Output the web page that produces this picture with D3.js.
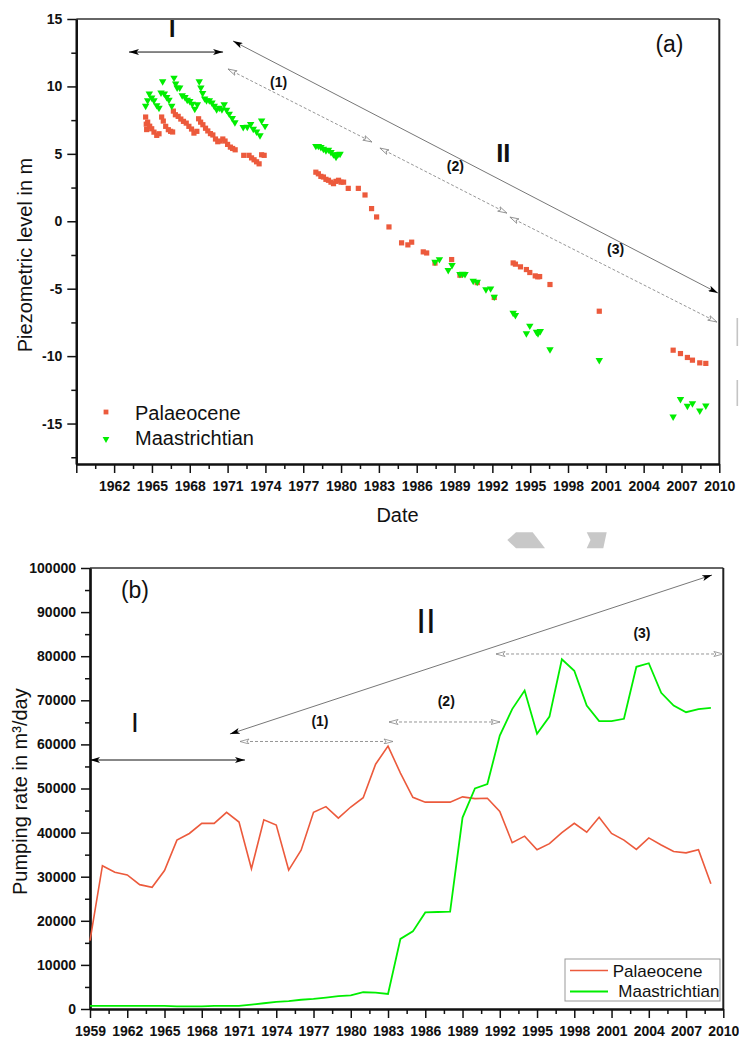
<!DOCTYPE html>
<html><head><meta charset="utf-8">
<script src="https://cdn.jsdelivr.net/npm/d3@7"></script>
<style>body{margin:0;background:#fff}svg{display:block}text{font-family:"Liberation Sans",Arial,sans-serif}</style>
</head><body><svg id="c" width="739" height="1042"></svg>
<script>
// ---------- DATA: panel (a) piezometric levels ----------
const palYears = [1964.50,1964.55,1964.58,1964.66,1964.82,1964.98,1965.16,1965.38,1965.56,1965.77,1965.90,1966.09,1966.30,1966.48,1966.64,1966.70,1966.86,1967.08,1967.29,1967.50,1967.72,1967.93,1968.14,1968.33,1968.56,1968.70,1968.86,1969.04,1969.25,1969.43,1969.64,1969.83,1970.04,1970.22,1970.41,1970.62,1970.80,1971.00,1971.22,1971.40,1971.60,1972.28,1972.70,1972.90,1973.10,1973.30,1973.50,1973.70,1973.90,1978.00,1978.20,1978.40,1978.60,1978.80,1979.00,1979.20,1979.40,1979.60,1979.80,1980.00,1980.20,1980.57,1981.37,1981.90,1982.42,1982.82,1983.80,1984.80,1985.30,1985.60,1986.52,1986.79,1987.45,1988.77,1989.43,1990.80,1992.15,1993.65,1993.83,1994.23,1994.70,1994.97,1995.40,1995.60,1995.75,1996.57,2000.48,2006.34,2006.92,2007.47,2007.87,2008.45,2008.93];
const palLevels = [7.73,7.20,6.80,7.35,7.05,6.86,6.61,6.37,6.49,7.73,7.43,7.04,6.79,6.67,6.62,8.17,7.90,7.78,7.58,7.41,7.28,7.04,6.84,6.54,6.67,7.60,7.35,7.16,6.90,6.70,6.50,6.40,6.10,5.90,5.95,6.10,5.95,5.70,5.50,5.40,5.30,4.89,4.89,4.70,4.56,4.41,4.26,4.93,4.89,3.64,3.52,3.33,3.28,3.11,3.04,2.90,2.79,2.96,3.04,2.90,2.90,2.44,2.44,1.95,0.94,0.32,-0.42,-1.60,-1.75,-1.55,-2.27,-2.35,-3.10,-2.84,-4.00,-4.55,-5.65,-3.09,-3.18,-3.38,-3.58,-3.80,-4.05,-4.12,-4.10,-4.69,-6.67,-9.56,-9.81,-10.10,-10.30,-10.50,-10.54];
const maaYears = [1964.50,1964.66,1964.79,1964.98,1965.16,1965.38,1965.56,1965.72,1965.85,1965.98,1966.17,1966.35,1966.57,1966.75,1966.88,1967.00,1967.20,1967.40,1967.62,1967.80,1968.00,1968.20,1968.40,1968.60,1968.75,1968.88,1969.02,1969.18,1969.33,1969.55,1969.76,1969.94,1970.13,1970.34,1970.55,1970.73,1970.92,1971.13,1971.37,1971.58,1972.24,1972.56,1972.83,1973.04,1973.30,1973.57,1973.70,1973.97,1978.00,1978.20,1978.40,1978.60,1978.80,1979.00,1979.20,1979.40,1979.60,1979.75,1979.92,1987.45,1987.80,1988.50,1988.80,1989.43,1989.65,1989.83,1990.48,1990.80,1991.49,1991.86,1992.15,1993.65,1993.83,1994.70,1994.97,1995.50,1995.62,1995.80,1996.57,2000.48,2006.34,2006.92,2007.47,2007.87,2008.45,2008.93];
const maaLevels = [8.55,8.96,9.46,9.16,8.96,8.60,8.40,9.54,10.37,9.46,9.20,9.00,8.55,10.64,10.20,9.90,9.90,9.33,9.20,9.00,8.90,8.70,8.33,8.66,10.37,9.90,9.50,9.10,8.96,8.96,8.80,8.55,8.30,8.40,8.30,8.66,8.26,7.97,7.65,7.33,6.98,7.00,7.20,6.85,6.65,6.37,7.46,7.06,5.58,5.58,5.50,5.37,5.26,5.30,5.12,4.96,4.77,4.96,5.00,-3.01,-2.82,-3.63,-3.26,-3.93,-3.90,-3.93,-4.42,-4.50,-5.06,-4.99,-5.60,-6.79,-6.96,-8.32,-7.75,-8.20,-8.32,-8.15,-9.51,-10.30,-14.49,-13.19,-13.70,-13.51,-14.05,-13.68];
const topXTicks = [1959,1962,1965,1968,1971,1974,1977,1980,1983,1986,1989,1992,1995,1998,2001,2004,2007,2010];
const topYTicks = [-15,-10,-5,0,5,10,15];

// ---------- DATA: panel (b) pumping rates ----------
const pumpYears = [1959,1960,1961,1962,1963,1964,1965,1966,1967,1968,1969,1970,1971,1972,1973,1974,1975,1976,1977,1978,1979,1980,1981,1982,1983,1984,1985,1986,1987,1988,1989,1990,1991,1992,1993,1994,1995,1996,1997,1998,1999,2000,2001,2002,2003,2004,2005,2006,2007,2008,2009];
const pumpPal = [15500,32500,31000,30400,28200,27600,31400,38300,39800,42100,42100,44600,42400,31800,42900,41700,31500,36000,44600,45900,43300,45800,47900,55500,59600,53500,48000,46900,46900,46900,48100,47700,47800,44800,37700,39200,36100,37500,40000,42100,40100,43500,39800,38300,36200,38800,37200,35700,35400,36100,28400];
const pumpMaa = [700,700,700,700,700,700,700,600,600,600,700,700,700,1000,1300,1600,1800,2100,2300,2600,2900,3100,3800,3700,3400,15900,17600,21900,22000,22100,43400,50000,51000,62000,68000,72200,62400,66300,79300,76700,68800,65300,65300,65800,77600,78400,71700,68800,67300,68000,68300];
const botXTicks = [1959,1962,1965,1968,1971,1974,1977,1980,1983,1986,1989,1992,1995,1998,2001,2004,2007,2010];
const botYTicks = [0,10000,20000,30000,40000,50000,60000,70000,80000,90000,100000];
const seriesNames = ["Palaeocene","Maastrichtian"];
const RED = "#EC5A3C", GREEN = "#00EE00";

// ---------- SETUP ----------
const svg = d3.select("#c");
svg.append("rect").attr("width",739).attr("height",1042).attr("fill","#fff");
const defs = svg.append("defs");
defs.append("marker").attr("id","hs").attr("viewBox","0 0 10 6").attr("refX",10).attr("refY",3)
  .attr("markerWidth",10).attr("markerHeight",6).attr("markerUnits","userSpaceOnUse").attr("orient","auto-start-reverse")
  .append("path").attr("d","M0,0 L10,3 L0,6 L2.5,3 Z").attr("fill","#000");
defs.append("marker").attr("id","ho").attr("viewBox","0 0 10 6").attr("refX",9.5).attr("refY",3)
  .attr("markerWidth",10).attr("markerHeight",6).attr("markerUnits","userSpaceOnUse").attr("orient","auto-start-reverse")
  .append("path").attr("d","M0.5,0.5 L9.5,3 L0.5,5.5 L2.5,3 Z").attr("fill","#fff").attr("stroke","#888").attr("stroke-width",0.8);

function mids(a){const r=[];for(let i=0;i<a.length-1;i++)r.push((a[i]+a[i+1])/2);return r;}

function drawAxes(x, y, xTicks, xFmt, yTicks, yFmt, yMinor, fs){
  const g = svg.append("g");
  const y0 = y.range()[0], y1 = y.range()[1], x0 = x.range()[0], x1 = x.range()[1];
  g.append("line").attr("x1",x0).attr("x2",x1).attr("y1",y1).attr("y2",y1).attr("stroke","#333").attr("stroke-width",1.6);
  g.append("line").attr("x1",x1).attr("x2",x1).attr("y1",y1).attr("y2",y0).attr("stroke","#222").attr("stroke-width",2);
  const gx = g.append("g").attr("transform",`translate(0,${y0})`);
  gx.append("g").call(d3.axisBottom(x).tickValues(mids(xTicks)).tickSize(5).tickSizeOuter(0).tickFormat(""));
  const gxm = gx.append("g").call(d3.axisBottom(x).tickValues(xTicks).tickSize(9).tickSizeOuter(0).tickFormat(xFmt));
  gxm.selectAll("text").attr("y",17.5).attr("dy","0.71em");
  const gy = g.append("g").attr("transform",`translate(${x0},0)`);
  gy.append("g").call(d3.axisLeft(y).tickValues(yMinor).tickSize(5).tickSizeOuter(0).tickFormat(""));
  gy.append("g").call(d3.axisLeft(y).tickValues(yTicks).tickSize(9).tickPadding(5).tickSizeOuter(0).tickFormat(yFmt));
  g.selectAll(".domain").attr("stroke","#111").attr("stroke-width",2.2);
  g.selectAll(".tick line").attr("stroke","#111").attr("stroke-width",1.5);
  g.selectAll(".tick text").attr("font-family","Liberation Sans, Arial, sans-serif").attr("font-weight","bold").attr("font-size",fs).attr("fill","#111");
  return g;
}
function arrow(p1, p2, dashed, headSolidEnds){
  svg.append("line").attr("x1",p1[0]).attr("y1",p1[1]).attr("x2",p2[0]).attr("y2",p2[1])
    .attr("stroke", dashed ? "#8a8a8a" : (headSolidEnds==="black" ? "#111" : "#777"))
    .attr("stroke-width", dashed ? 0.9 : 1)
    .attr("stroke-dasharray", dashed ? "3,2" : null)
    .attr("marker-start", dashed ? "url(#ho)" : "url(#hs)")
    .attr("marker-end", dashed ? "url(#ho)" : "url(#hs)");
}
function label(p, txt, size, weight, anchor){
  svg.append("text").attr("x",p[0]).attr("y",p[1]).attr("text-anchor",anchor||"middle")
    .attr("font-size",size).attr("font-weight",weight).attr("fill","#111").text(txt);
}
const numFmt = d => String(d);

// ---------- PANEL (a) ----------
const xT = d3.scaleLinear().domain([1959,2010]).range([76.3,719.3]);
const yT = d3.scaleLinear().domain([-18,15]).range([464,19]);
drawAxes(xT, yT, topXTicks, d => d===1959 ? "" : String(d), topYTicks, numFmt, [-17.5,-12.5,-7.5,-2.5,2.5,7.5,12.5], 14);

const P = (a,b)=>[xT(a),yT(b)];
arrow(P(1963.18,12.55), P(1970.64,12.55), false, "black");
arrow(P(1971.43,13.37), P(2009.89,-5.32), false);
arrow(P(1971.03,11.29), P(1982.45,5.88), true);
arrow(P(1983.08,5.43), P(1993.15,0.61), true);
arrow(P(1993.39,0.31), P(2009.81,-7.47), true);
label(P(1966.61,13.69),"I",23,"bold");
label(P(1992.87,4.42),"II",25.5,"bold");
label(P(2006.05,12.55),"(a)",23,"normal");
label(P(1975.05,9.99),"(1)",14,"bold");
label(P(1989.06,3.76),"(2)",14,"bold");
label(P(2001.78,-2.43),"(3)",14,"bold");

const palPts = palYears.map((d,i)=>[d,palLevels[i]]);
const maaPts = maaYears.map((d,i)=>[d,maaLevels[i]]);
svg.append("g").selectAll("rect").data(palPts).join("rect")
  .attr("x",d=>xT(d[0])-2.6).attr("y",d=>yT(d[1])-2.6).attr("width",5.2).attr("height",5.2).attr("fill",RED);
const tri = d3.symbol().type(d3.symbolTriangle).size(24);
svg.append("g").selectAll("path").data(maaPts).join("path")
  .attr("d",tri).attr("transform",d=>`translate(${xT(d[0])},${yT(d[1])}) rotate(180)`).attr("fill",GREEN);

// legend (a)
svg.append("rect").attr("x",103.6).attr("y",409.6).attr("width",4.8).attr("height",4.8).attr("fill",RED);
svg.append("path").attr("d",d3.symbol().type(d3.symbolTriangle).size(20)).attr("transform","translate(106,439) rotate(180)").attr("fill",GREEN);
label([135,420],seriesNames[0],20,"normal","start");
label([135,445],seriesNames[1],20,"normal","start");

svg.append("text").attr("transform","translate(31.5,255) rotate(-90)").attr("text-anchor","middle")
  .attr("font-size",20).attr("fill","#111").text("Piezometric level in m");
label([397.5,521.5],"Date",20,"normal");

// watermark / artefacts
svg.append("polygon").attr("points","507.3,540 516,532.3 532.7,532.3 545,548.3 516,548.3").attr("fill","#c8c8c8");
svg.append("polygon").attr("points","586.7,532.3 606.7,532.3 603.3,548.3 586.7,548.3 590.5,540").attr("fill","#c8c8c8");
svg.append("rect").attr("x",736.5).attr("y",318).attr("width",1.6).attr("height",28).attr("fill","#c4c4c4");
svg.append("rect").attr("x",736.5).attr("y",380).attr("width",1.6).attr("height",26).attr("fill","#c4c4c4");

// ---------- PANEL (b) ----------
const xB = d3.scaleLinear().domain([1959,2010]).range([90,723.3]);
const yB = d3.scaleLinear().domain([0,100000]).range([1009,568]);
drawAxes(xB, yB, botXTicks, numFmt, botYTicks, numFmt, mids(botYTicks), 14);

const Q = (a,b)=>[xB(a),yB(b)];
arrow(Q(1959,56460), Q(1971.48,56460), false, "black");
arrow(Q(1970.27,62360), Q(2009.09,98410), false);
arrow(Q(1971.08,60660), Q(1983.40,60660), true);
arrow(Q(1983.08,65080), Q(1992.02,65080), true);
arrow(Q(1991.70,80500), Q(2009.97,80500), true);
label(Q(1962.62,93200),"(b)",23,"normal");
label(Q(1962.62,62800),"I",28,"normal");
label(Q(1986.06,85260),"II",35,"normal");
label(Q(1977.52,64170),"(1)",14,"bold");
label(Q(1987.69,68710),"(2)",14,"bold");
label(Q(2003.45,84240),"(3)",14,"bold");

const lineGen = (vals)=>d3.line().x((d,i)=>xB(pumpYears[i])).y(d=>yB(d))(vals);
svg.append("path").attr("d",lineGen(pumpPal)).attr("fill","none").attr("stroke",RED).attr("stroke-width",1.6);
svg.append("path").attr("d",lineGen(pumpMaa)).attr("fill","none").attr("stroke",GREEN).attr("stroke-width",1.8);

// legend (b)
svg.append("rect").attr("x",565).attr("y",959).attr("width",155).attr("height",42).attr("fill","#fff").attr("stroke","#999").attr("stroke-width",1);
svg.append("line").attr("x1",570).attr("x2",608).attr("y1",970.5).attr("y2",970.5).attr("stroke",RED).attr("stroke-width",1.6);
svg.append("line").attr("x1",570).attr("x2",608).attr("y1",991.5).attr("y2",991.5).attr("stroke",GREEN).attr("stroke-width",1.8);
label([612.7,976.5],seriesNames[0],17,"normal","start");
label([618.3,997],seriesNames[1],17,"normal","start");

svg.append("text").attr("transform","translate(26.5,791.7) rotate(-90)").attr("text-anchor","middle")
  .attr("font-size",20).attr("fill","#111").text("Pumping rate in m³/day");
</script></body></html>
